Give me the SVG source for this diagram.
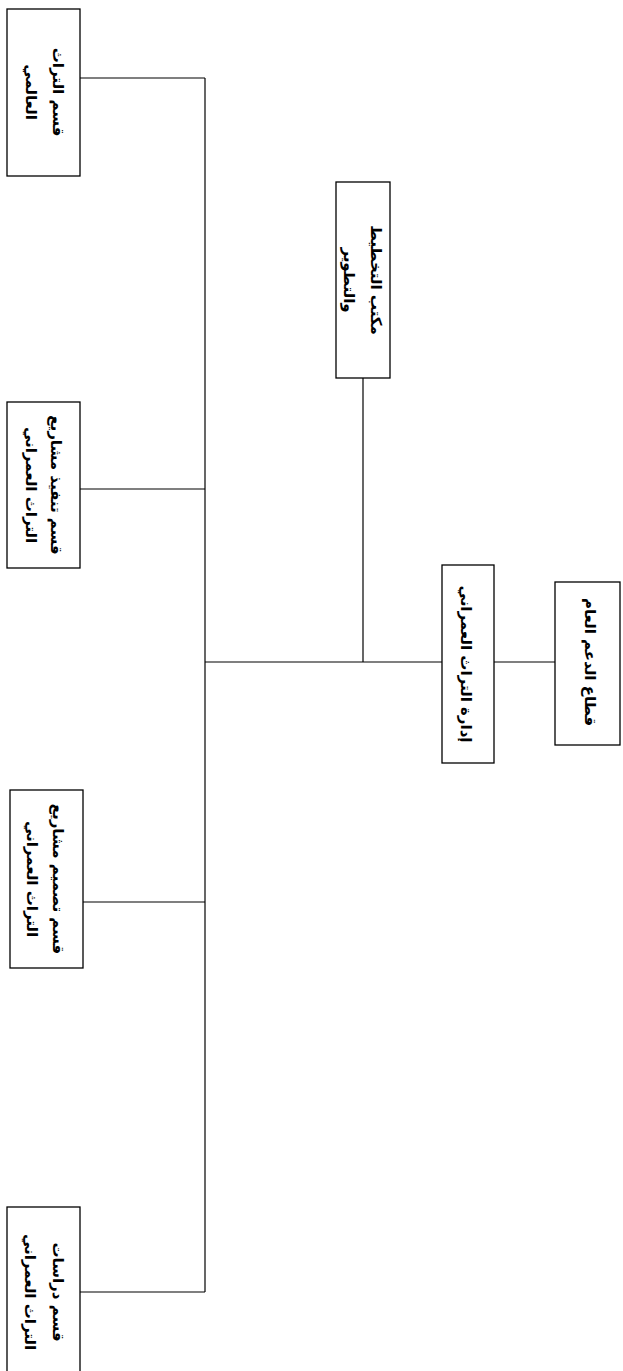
<svg xmlns="http://www.w3.org/2000/svg" width="623" height="1371" viewBox="0 0 623 1371">
<style>
.box{fill:#fff;stroke:#000;stroke-width:1.3}
.ln{stroke:#000;stroke-width:1.2;fill:none}
.t{font-family:"DejaVu Sans",sans-serif;font-weight:bold;font-size:15px;text-anchor:middle;dominant-baseline:central;fill:#000}
</style>
<rect width="623" height="1371" fill="#fff"/>
<g id="connectors">
<line class="ln" x1="205" y1="78" x2="205" y2="1292"/>
<line class="ln" x1="80" y1="78" x2="205" y2="78"/>
<line class="ln" x1="80" y1="489" x2="205" y2="489"/>
<line class="ln" x1="83" y1="902" x2="205" y2="902"/>
<line class="ln" x1="80" y1="1292" x2="205" y2="1292"/>
<line class="ln" x1="205" y1="662" x2="442" y2="662"/>
<line class="ln" x1="363" y1="378" x2="363" y2="662"/>
<line class="ln" x1="494" y1="662" x2="555" y2="662"/>
</g>
<g id="n1">
<rect class="box" x="7" y="9" width="73" height="167"/>
<text class="t" transform="translate(44,92) rotate(90)"><tspan x="0" y="-14">قسم التراث</tspan><tspan x="0" y="13">العالمي</tspan></text>
</g>
<g id="n2">
<rect class="box" x="336" y="182" width="54" height="196"/>
<text class="t" transform="translate(363,280) rotate(90)"><tspan x="0" y="-13">مكتب التخطيط</tspan><tspan x="0" y="14">والتطوير</tspan></text>
</g>
<g id="n3">
<rect class="box" x="7" y="402" width="73" height="166"/>
<text class="t" transform="translate(44,485) rotate(90)"><tspan x="0" y="-12">قسم تنفيذ مشاريع</tspan><tspan x="0" y="13">التراث العمراني</tspan></text>
</g>
<g id="n4">
<rect class="box" x="442" y="565" width="52" height="198"/>
<text class="t" transform="translate(466,664) rotate(90)">إدارة التراث العمراني</text>
</g>
<g id="n5">
<rect class="box" x="555" y="582" width="65" height="163"/>
<text class="t" transform="translate(590,662) rotate(90)">قطاع الدعم العام</text>
</g>
<g id="n6">
<rect class="box" x="10" y="790" width="73" height="178"/>
<text class="t" transform="translate(46,879) rotate(90)"><tspan x="0" y="-12">قسم تصميم مشاريع</tspan><tspan x="0" y="14">التراث العمراني</tspan></text>
</g>
<g id="n7">
<rect class="box" x="7" y="1207" width="73" height="180"/>
<text class="t" transform="translate(44,1292) rotate(90)"><tspan x="0" y="-14">قسم دراسات</tspan><tspan x="0" y="14">التراث العمراني</tspan></text>
</g>
</svg>
